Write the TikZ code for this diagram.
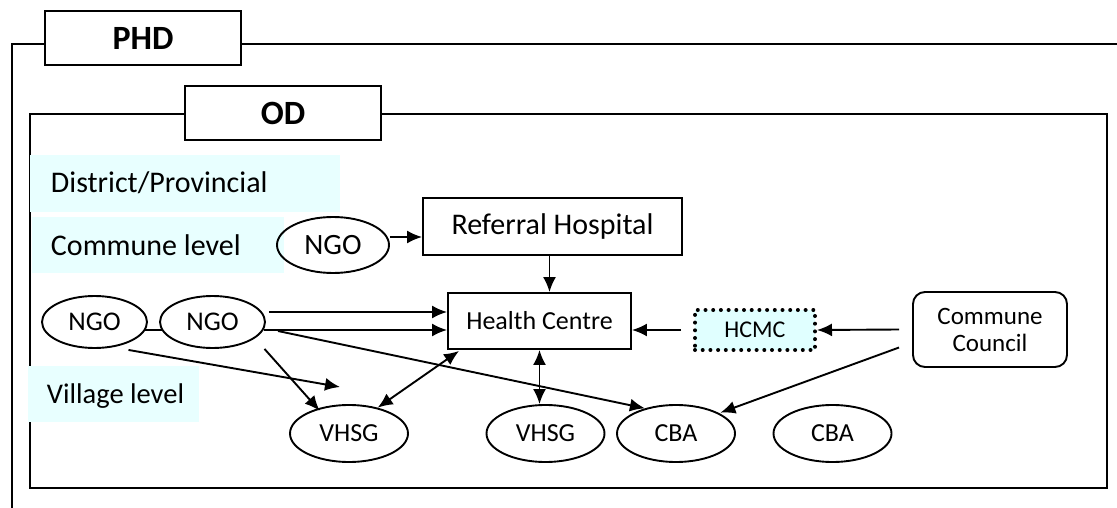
\documentclass[tikz,border=0pt]{standalone}
\usepackage{fontspec}
\setmainfont{Carlito}
\usetikzlibrary{shapes.geometric,arrows.meta,calc}
\newcommand{\fsz}[2]{\fontsize{#1}{#2}\selectfont}
\definecolor{lblbg}{RGB}{232,255,255}
\definecolor{hcmcbg}{RGB}{224,255,255}
\begin{document}
\begin{tikzpicture}[x=1pt,y=-1pt,line width=1.9pt]
\tikzset{
 lbl/.style={anchor=base west,inner sep=0pt,font=\fsz{30}{36}},
 oval/.style={ellipse,draw,inner sep=0pt,minimum width=118pt,minimum height=57pt,font=\fsz{26}{30}},
 boxn/.style={rectangle,draw,inner sep=0pt},
 titlebox/.style={rectangle,draw,fill=white,inner sep=0pt,minimum width=196pt,minimum height=54pt,font=\bfseries\fsz{34}{40}},
 hcmcstyle/.style={fill=hcmcbg,draw,line width=4pt,dash pattern=on 0pt off 7.7pt,line cap=round},
 arr/.style={-{Latex[length=15pt,width=13pt]}},
 darr/.style={{Latex[length=15pt,width=13pt]}-{Latex[length=15pt,width=13pt]}},
}
\useasboundingbox (0,0) rectangle (1117,508);
% frames
\draw (1125,44) -- (12,44) -- (12,515);
\node[titlebox] (phd) at (143,38) {PHD};
\draw (30,114) rectangle (1107,488);
\node[titlebox] (od) at (283,113) {OD};
% level labels
\fill[lblbg] (30,155) rectangle (340,212);
\node[lbl] (dist) at (50,193) {District/Provincial};
\fill[lblbg] (32,217) rectangle (284,273);
\node[lbl] (comm) at (50,255) {Commune level};
\fill[lblbg] (28,366) rectangle (199,422);
\node[lbl,font=\fsz{28.5}{34}] (vill) at (46,403) {Village level};
% nodes
\node[oval,minimum width=112pt,minimum height=56pt,font=\fsz{29.5}{35}] (ngoC) at (333,245) {NGO};
\node[boxn,minimum width=259pt,minimum height=57pt,font=\fsz{30}{35}] (ref) at (552.5,226.5) {Referral Hospital};
\node[boxn,minimum width=183pt,minimum height=56pt,font=\fsz{26}{31}] (hc) at (539.5,321) {Health Centre};
\node[boxn,hcmcstyle,minimum width=120pt,minimum height=40pt,font=\fsz{24}{29}] (hcmc) at (755,330) {HCMC};
\node[boxn,rounded corners=12pt,minimum width=154pt,minimum height=75pt,align=center,font=\fsz{25}{27}] (cc) at (990,329.5) {Commune\\Council};
\node[oval,minimum width=105pt,minimum height=52pt,font=\fsz{27}{32}] (ngo1) at (94.5,322) {NGO};
\node[oval,minimum width=105pt,minimum height=52pt,font=\fsz{27}{32}] (ngo2) at (212.5,322) {NGO};
\node[oval] (vhsg1) at (349,433.5) {VHSG};
\node[oval] (vhsg2) at (545.5,433.5) {VHSG};
\node[oval] (cba1) at (676,433.5) {CBA};
\node[oval] (cba2) at (832.5,433.5) {CBA};
\coordinate (v1free) at (340,387);
% connectors
\draw[arr] ([yshift=8pt]ngoC.east) -- ([yshift=8pt]ngoC.east -| ref.west);
\draw[arr] ([xshift=-3pt]ref.south) -- ([xshift=-3pt]ref.south |- hc.north);
\draw[arr] ($(ngo2.east)+(3,-10)$) -- ($(hc.west)+(0,-9)$);
\draw[arr] ($(ngo2.east)+(-2,8)$) -- ($(hc.west)+(0,9)$);
\draw ($(ngo1.east)+(-3,8)$) -- ($(ngo2.west)+(3,8)$);
\draw[arr] ($(ngo2.east)+(12,9)$) -- (cba1.141);
\draw[arr] ($(ngo1.south)+(34,1)$) -- (v1free);
\draw[arr] ($(ngo2.south)+(52,0)$) -- ($(vhsg1.north west)+(13,-2)$);
\draw[darr] ($(hc.south west)+(12,1)$) -- (vhsg1.42);
\draw[darr] (hc.south) -- (hc.south |- vhsg2.north);
\draw[arr] ($(hcmc.west)+(-12,0)$) -- (hcmc.west -| hc.east);
\draw[arr] ($(cc.west)+(-13,0)$) -- (hcmc.east);
\draw[arr] ($(cc.west)+(-13,18)$) -- ($(cba1.north east)+(2,0)$);
\end{tikzpicture}
\end{document}
